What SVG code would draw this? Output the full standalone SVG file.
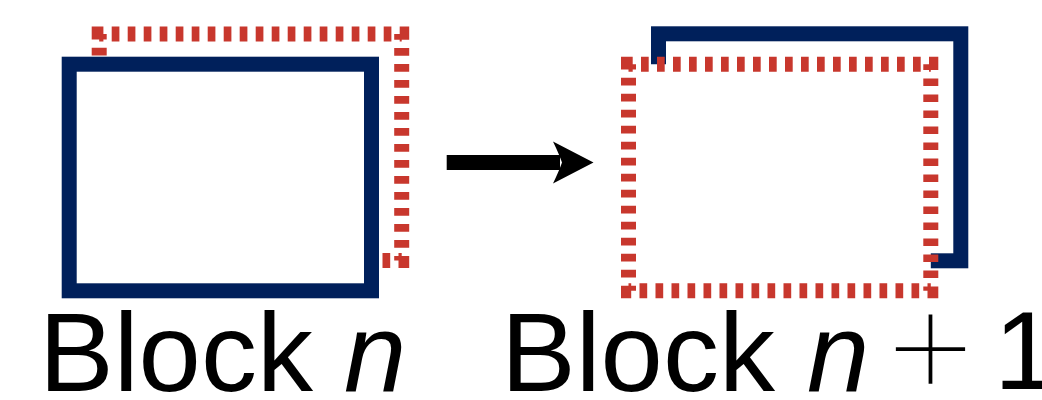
<svg xmlns="http://www.w3.org/2000/svg" width="1042" height="400" viewBox="0 0 1042 400">
<style>
.navy{fill:#ffffff;stroke:#00205b;stroke-width:15;stroke-linejoin:miter}
.red{fill:#ffffff;stroke:#c8372d;stroke-width:15;stroke-dasharray:7.7 8.3;stroke-dashoffset:3.5}
.lbl{font-family:"Liberation Sans",Arial,sans-serif;font-size:112px;fill:#000}
.it{font-style:italic}
.op{font-family:Inter,"Liberation Sans",sans-serif;font-weight:100;font-size:168px;fill:#000}
</style>
<g id="blockN">
<path class="red" d="M99.2,34 H401.7 V260.5 H99.2 Z"/>
<rect class="navy" x="69.2" y="64.2" width="302.3" height="226.6"/>
<text class="lbl" x="39" y="390.5">Block</text>
<text class="lbl it" x="344" y="390.5">n</text>
</g>
<g id="blockN1">
<rect class="navy" x="658.5" y="33.8" width="302.3" height="227"/>
<path class="red" d="M628.5,64.2 H930.8 V290.8 H628.5 Z"/>
<text class="lbl" x="501" y="390.5">Block</text>
<text class="lbl it" x="807" y="390.5">n</text>
<text class="op" x="930.5" y="397" text-anchor="middle">+</text>
<text class="lbl" x="994" y="389">1</text>
</g>
<g id="connectors">
<line x1="446.7" y1="162.5" x2="560" y2="162.5" stroke="#000" stroke-width="15"/>
<path d="M553,141.5 Q559,154 562,162.5 Q559,171 553,183.5 L593.5,162.5 Z" fill="#000"/>
</g>
</svg>
